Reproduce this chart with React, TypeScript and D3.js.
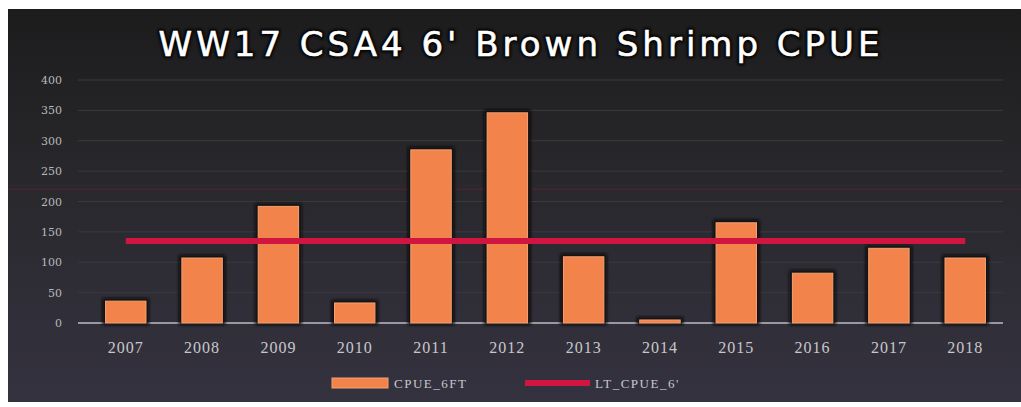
import * as d3 from 'd3'
import * as React from 'react'

//------------------------------data------------------------------
const years = ['2007', '2008', '2009', '2010', '2011', '2012', '2013', '2014', '2015', '2016', '2017', '2018']
const cpue6ft = [36, 107, 192, 33, 285, 346, 109, 5, 165, 82, 123, 107]
const ltCpue = [135, 135, 135, 135, 135, 135, 135, 135, 135, 135, 135, 135]
const yTicks = [0, 50, 100, 150, 200, 250, 300, 350, 400]
const legendLabels = ['CPUE_6FT', "LT_CPUE_6'"]
const TITLE = "WW17 CSA4 6' Brown Shrimp CPUE"

const WIDTH = 1021
const HEIGHT = 407
const PLOT = { left: 88, right: 1003, top: 80, bottom: 323 }

//------------------------------Component------------------------------
export default function App() {
  const x = d3
    .scaleBand()
    .domain(years)
    .range([PLOT.left, PLOT.right])
    .paddingInner(0.47)
    .paddingOuter(0.23)
  const y = d3.scaleLinear().domain([0, 400]).range([PLOT.bottom, PLOT.top])

  const line = d3
    .line<number>()
    .x((_, i) => (x(years[i]) ?? 0) + x.bandwidth() / 2)
    .y(d => y(d))

  return (
    <svg
      width={WIDTH}
      height={HEIGHT}
      style={{ position: 'absolute', left: 0, top: 0, display: 'block' }}
    >
      <defs>
        <linearGradient id="bg" x1="0" y1="0" x2="0" y2="1">
          <stop offset="0" stopColor="#1c1c1d" />
          <stop offset="0.45" stopColor="#29282c" />
          <stop offset="1" stopColor="#353240" />
        </linearGradient>
        <filter id="shadow" x="-20%" y="-20%" width="140%" height="140%">
          <feGaussianBlur stdDeviation="1.5" />
        </filter>
        <filter id="tshadow" x="-5%" y="-30%" width="110%" height="160%">
          <feGaussianBlur stdDeviation="1.6" />
        </filter>
      </defs>
      <rect width={WIDTH} height={HEIGHT} fill="#ffffff" />
      <rect x={8} y={9} width={WIDTH - 8} height={393} fill="url(#bg)" />

      {/* grid */}
      {yTicks.map(t => (
        <line
          key={t}
          x1={PLOT.left - 10}
          x2={PLOT.right}
          y1={y(t)}
          y2={y(t)}
          stroke={t === 0 ? '#9a98a0' : '#3a3a40'}
          strokeWidth={t === 0 ? 2 : 1}
        />
      ))}
      <line x1={8} x2={WIDTH} y1={y(220)} y2={y(220)} stroke="#4a2230" strokeWidth={1.5} />

      {/* y axis labels */}
      {yTicks.map(t => (
        <text
          key={t}
          x={62}
          y={y(t) + 4}
          textAnchor="end"
          fontFamily="DejaVu Serif"
          fontSize={11}
          fill="#b8b8bc"
        >
          {t}
        </text>
      ))}

      {/* bars */}
      {cpue6ft.map((v, i) => (
        <g key={years[i]}>
          <rect
            x={(x(years[i]) ?? 0) - 3}
            y={y(v) - 3}
            width={x.bandwidth() + 6}
            height={y(0) - y(v) + 5}
            fill="#0e0c0c"
            filter="url(#shadow)"
          />
          <rect
            x={x(years[i])}
            y={y(v)}
            width={x.bandwidth()}
            height={y(0) - y(v)}
            fill="#f2834a"
            stroke="#f6a274"
            strokeWidth={1}
          />
        </g>
      ))}

      {/* long-term line */}
      <path d={line(ltCpue) ?? ''} fill="none" stroke="#cf1540" strokeWidth={6} />

      {/* x labels */}
      {years.map(yr => (
        <text
          key={yr}
          x={(x(yr) ?? 0) + x.bandwidth() / 2}
          y={353}
          textAnchor="middle"
          fontFamily="Liberation Serif"
          fontSize={16}
          letterSpacing={1}
          fill="#c8c8cc"
        >
          {yr}
        </text>
      ))}

      {/* legend */}
      <rect x={332} y={378} width={56} height={10} fill="#f2834a" stroke="#f6a274" />
      <text x={394} y={388} fontFamily="Liberation Serif" fontSize={13} letterSpacing={1.5} fill="#c8c8cc">
        {legendLabels[0]}
      </text>
      <line x1={525} x2={590} y1={383} y2={383} stroke="#cf1540" strokeWidth={6} />
      <text x={595} y={388} fontFamily="Liberation Serif" fontSize={13} letterSpacing={1.5} fill="#c8c8cc">
        {legendLabels[1]}
      </text>

      {/* title */}
      <text
        x={521}
        y={56}
        textAnchor="middle"
        fontFamily="DejaVu Sans"
        fontSize={34}
        letterSpacing={4}
        fill="#000"
        stroke="#000"
        strokeWidth={4}
        filter="url(#tshadow)"
      >
        {TITLE}
      </text>
      <text
        x={521}
        y={56}
        textAnchor="middle"
        fontFamily="DejaVu Sans"
        fontSize={34}
        letterSpacing={4}
        fill="#ffffff"
        stroke="#ffffff"
        strokeWidth={0.6}
      >
        {TITLE}
      </text>
    </svg>
  )
}
